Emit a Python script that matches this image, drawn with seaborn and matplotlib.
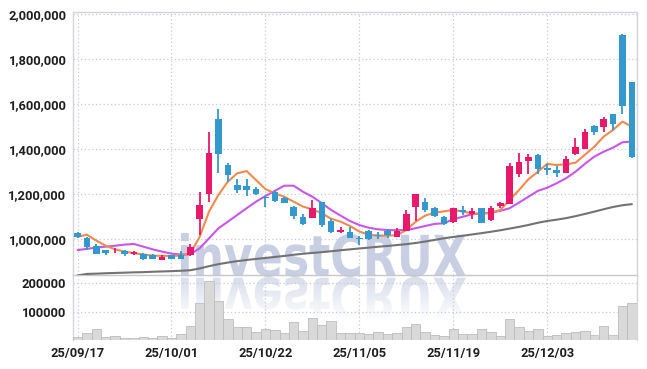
import numpy as np
import matplotlib
matplotlib.use("Agg")
import matplotlib.pyplot as plt
import seaborn as sns
from matplotlib.textpath import TextPath
from matplotlib.patches import PathPatch
from matplotlib.font_manager import FontProperties
from matplotlib.transforms import Affine2D
from matplotlib.colors import to_rgb

# ---------------- data ----------------
dates = ["25/09/17", "25/09/18", "25/09/19", "25/09/22", "25/09/23", "25/09/24", "25/09/25", "25/09/26", "25/09/29", "25/09/30",
         "25/10/01", "25/10/02", "25/10/10", "25/10/13", "25/10/14", "25/10/15", "25/10/16", "25/10/17", "25/10/20", "25/10/21",
         "25/10/22", "25/10/23", "25/10/24", "25/10/27", "25/10/28", "25/10/29", "25/10/30", "25/10/31", "25/11/03", "25/11/04",
         "25/11/05", "25/11/06", "25/11/07", "25/11/10", "25/11/11", "25/11/12", "25/11/13", "25/11/14", "25/11/17", "25/11/18",
         "25/11/19", "25/11/20", "25/11/21", "25/11/24", "25/11/25", "25/11/26", "25/11/27", "25/11/28", "25/12/01", "25/12/02",
         "25/12/03", "25/12/04", "25/12/05", "25/12/08", "25/12/09", "25/12/10", "25/12/11", "25/12/12", "25/12/15", "25/12/16"]

opens = [1030000, 1008000, 972000, 953000, 939000, 949000, 937000, 935000, 931000, 910000,
         931000, 931000, 930000, 1090000, 1203000, 1535000, 1331000, 1242000, 1238000, 1224000,
         1189000, 1210000, 1186000, 1146000, 1101000, 1097000, 1165000, 1082000, 1035000, 1035000,
         1008000, 1038000, 1021000, 1038000, 1012000, 1039000, 1146000, 1168000, 1139000, 1101000,
         1079000, 1131000, 1112000, 1139000, 1087000, 1150000, 1159000, 1292000, 1350000, 1376000,
         1318000, 1309000, 1297000, 1380000, 1402000, 1504000, 1501000, 1556000, 1909000, 1699000]
highs = [1032000, 1010000, 980000, 955000, 961000, 953000, 949000, 938000, 935000, 931000,
         933000, 950000, 980000, 1210000, 1476000, 1580000, 1341000, 1269000, 1269000, 1232000,
         1195000, 1215000, 1190000, 1148000, 1113000, 1175000, 1168000, 1090000, 1057000, 1054000,
         1017000, 1042000, 1032000, 1047000, 1050000, 1131000, 1204000, 1183000, 1146000, 1105000,
         1141000, 1149000, 1139000, 1141000, 1149000, 1168000, 1341000, 1383000, 1380000, 1378000,
         1336000, 1328000, 1370000, 1450000, 1490000, 1507000, 1543000, 1559000, 1913000, 1700000]
lows = [1008000, 953000, 935000, 930000, 939000, 928000, 930000, 907000, 912000, 909000,
        913000, 912000, 928000, 1020000, 1168000, 1297000, 1257000, 1205000, 1192000, 1198000,
        1146000, 1168000, 1160000, 1090000, 1066000, 1095000, 1057000, 1030000, 1028000, 1006000,
        976000, 998000, 1001000, 1005000, 1010000, 1037000, 1082000, 1124000, 1099000, 1066000,
        1072000, 1109000, 1090000, 1072000, 1084000, 1139000, 1157000, 1276000, 1291000, 1291000,
        1287000, 1279000, 1295000, 1377000, 1400000, 1464000, 1476000, 1487000, 1556000, 1363000]
closes = [1010000, 968000, 937000, 941000, 941000, 934000, 944000, 915000, 915000, 924000,
          915000, 915000, 967000, 1152000, 1386000, 1380000, 1287000, 1221000, 1221000, 1203000,
          1183000, 1171000, 1163000, 1106000, 1069000, 1139000, 1066000, 1032000, 1042000, 1008000,
          1001000, 1001000, 1016000, 1019000, 1038000, 1112000, 1202000, 1131000, 1106000, 1069000,
          1139000, 1121000, 1127000, 1075000, 1139000, 1164000, 1328000, 1343000, 1368000, 1313000,
          1309000, 1297000, 1358000, 1410000, 1476000, 1479000, 1534000, 1515000, 1592000, 1368000]

ma_short = [1012000, 1021000, 995000, 972000, 956000, 946000, 939000, 933000, 928000, 927000,
            927000, 928000, 936000, 1012000, 1124000, 1198000, 1257000, 1294000, 1304000, 1264000,
            1224000, 1205000, 1190000, 1168000, 1146000, 1134000, 1116000, 1092000, 1079000, 1060000,
            1035000, 1021000, 1017000, 1017000, 1019000, 1042000, 1079000, 1106000, 1119000, 1125000,
            1131000, 1124000, 1116000, 1113000, 1119000, 1131000, 1176000, 1220000, 1268000, 1301000,
            1336000, 1331000, 1334000, 1341000, 1376000, 1412000, 1457000, 1487000, 1524000, 1501000]
ma_mid = [953000, 958000, 964000, 968000, 972000, 977000, 980000, 968000, 956000, 946000,
          937000, 933000, 934000, 961000, 1005000, 1050000, 1079000, 1109000, 1139000, 1168000,
          1193000, 1216000, 1239000, 1239000, 1212000, 1190000, 1161000, 1131000, 1106000, 1082000,
          1064000, 1052000, 1045000, 1042000, 1041000, 1042000, 1050000, 1060000, 1069000, 1072000,
          1090000, 1101000, 1112000, 1116000, 1119000, 1127000, 1139000, 1164000, 1190000, 1216000,
          1230000, 1250000, 1272000, 1301000, 1336000, 1368000, 1390000, 1408000, 1432000, 1435000]
ma_long = [840000, 846700, 848000, 849800, 851100, 852400, 853800, 854700, 856400, 857800,
           859100, 860900, 863100, 871100, 881300, 890200, 897300, 903600, 908900, 913300,
           917800, 922200, 926700, 932000, 936400, 940000, 943600, 947600, 952000, 956000,
           960000, 963600, 967600, 971100, 975100, 979100, 984400, 990700, 997800, 1005300,
           1011100, 1016400, 1022200, 1028000, 1034200, 1040900, 1048400, 1056000, 1064400, 1074200,
           1082200, 1088000, 1094700, 1103500, 1113300, 1123600, 1134200, 1144400, 1152000, 1156900]

volume = [9500, 24600, 37500, 9500, 13000, 6000, 6000, 9500, 6000, 13000,
          6000, 20000, 49100, 128800, 207000, 135800, 72600, 44600, 44600, 28100,
          38600, 34000, 24600, 62100, 31600, 76100, 51600, 65600, 24600, 24600,
          24600, 21100, 28100, 21100, 24600, 45600, 56100, 28100, 16400, 13000,
          37500, 21100, 21100, 37500, 28100, 13000, 72600, 44600, 31600, 37500,
          13000, 16400, 24600, 28100, 31600, 16400, 48000, 16400, 118000, 129800]

price_ticks = [1000000, 1200000, 1400000, 1600000, 1800000, 2000000]
volume_ticks = [100000, 200000]
xtick_pos = [0, 10, 20, 30, 40, 50]

# ---------------- style ----------------
RED = "#e8196a"
BLUE = "#3399cc"
ORANGE = "#f08a4e"
PURPLE = "#c956ea"
GRAY = "#737373"
GRID = "#c6cbd8"
SPINE = "#d2d4da"
TXT = "#1e1e1e"
WMC = "#c8cfe2"

sns.set_style("white")
plt.rcParams['font.family'] = ['Roboto', 'DejaVu Sans']

W, H = 647, 369
fig = plt.figure(figsize=(W / 100, H / 100), dpi=100, facecolor="white")


def rect(x0, y0, x1, y1):
    return [x0 / W, 1 - y1 / H, (x1 - x0) / W, (y1 - y0) / H]


wm = fig.add_axes([0, 0, 1, 1], zorder=1)
ax = fig.add_axes(rect(73.3, 12.3, 637, 275), zorder=2)
axv = fig.add_axes(rect(73.3, 275, 637, 340), zorder=2)
for a in (ax, axv):
    a.set_facecolor("none")

idx = np.arange(len(dates))
o = np.array(opens, float)
c = np.array(closes, float)
hi = np.array(highs, float)
lo = np.array(lows, float)
up = c >= o
cols = np.where(up, RED, BLUE)

# moving averages
sns.lineplot(x=idx, y=ma_long, ax=ax, color=GRAY, lw=1.5, zorder=3)
sns.lineplot(x=idx, y=ma_mid, ax=ax, color=PURPLE, lw=1.5, zorder=3)
sns.lineplot(x=idx, y=ma_short, ax=ax, color=ORANGE, lw=1.5, zorder=3)

# candles
ax.vlines(idx, lo, hi, colors=cols, lw=1.3, zorder=4)
ax.bar(idx, np.maximum(np.abs(c - o), 2500), bottom=np.minimum(o, c), width=0.7,
       color=cols, zorder=5, linewidth=0)

ax.set_xlim(-0.45, 59.55)
ax.set_ylim(842000, 2009700)
ax.set_yticks(price_ticks)
ax.set_yticklabels([f"{v:,}" for v in price_ticks])
ax.set_xticks(xtick_pos)
ax.set_xticklabels([])
ax.set_xlabel("")
ax.set_ylabel("")

# volume
sns.barplot(x=idx, y=volume, ax=axv, native_scale=True, color="#d9d9d9", saturation=1,
            edgecolor="#bdbdbd", linewidth=0.6, width=1.0, errorbar=None, zorder=3)
axv.set_xlim(-0.45, 59.55)
axv.set_ylim(0, 228100)
axv.set_yticks(volume_ticks)
axv.set_yticklabels([str(v) for v in volume_ticks])
axv.set_xticks(xtick_pos)
axv.set_xticklabels([dates[i] for i in xtick_pos])
axv.set_xlabel("")
axv.set_ylabel("")

for a in (ax, axv):
    a.grid(True, color=GRID, linestyle=(0, (1, 2)), lw=0.9)
    a.set_axisbelow(True)
    a.tick_params(length=0, pad=5, labelsize=9.3, labelcolor=TXT)
    for lab in a.get_xticklabels() + a.get_yticklabels():
        lab.set_fontweight("bold")
    for s in a.spines.values():
        s.set_color(SPINE)
        s.set_linewidth(1.0)
axv.spines["top"].set_visible(False)
axv.spines["bottom"].set_visible(False)
ax.spines["bottom"].set_color("#c8c8c8")

# watermark
fp = FontProperties(family="DejaVu Sans", weight="bold")
tp = TextPath((0, 0), "investCRUX", size=100, prop=fp)
bb = tp.get_extents()
x0, x1 = 181, 466
base, top = 277, 233
sx = (x1 - x0) / bb.width
sy = (base - top) / bb.height
tr = Affine2D().translate(-bb.x0, -bb.y0).scale(sx, sy).translate(x0, H - base)
wm.add_patch(PathPatch(tr.transform_path(tp), fc=WMC, ec="none"))
trr = Affine2D().translate(-bb.x0, -bb.y0).scale(sx, -sy).translate(x0, H - base)
refl = PathPatch(trr.transform_path(tp), fc="none", ec="none")
wm.add_patch(refl)
rgb = to_rgb(WMC)
grad = np.zeros((100, 2, 4))
grad[..., 0], grad[..., 1], grad[..., 2] = rgb
grad[..., 3] = np.linspace(0.7, 0.0, 100)[:, None]
im = wm.imshow(grad, extent=(x0, x1, H - base - (base - top), H - base), origin="upper",
               aspect="auto", interpolation="bilinear")
im.set_clip_path(refl)
wm.set_xlim(0, W)
wm.set_ylim(0, H)
wm.axis("off")

fig.savefig("out.png", dpi=100, facecolor="white")
